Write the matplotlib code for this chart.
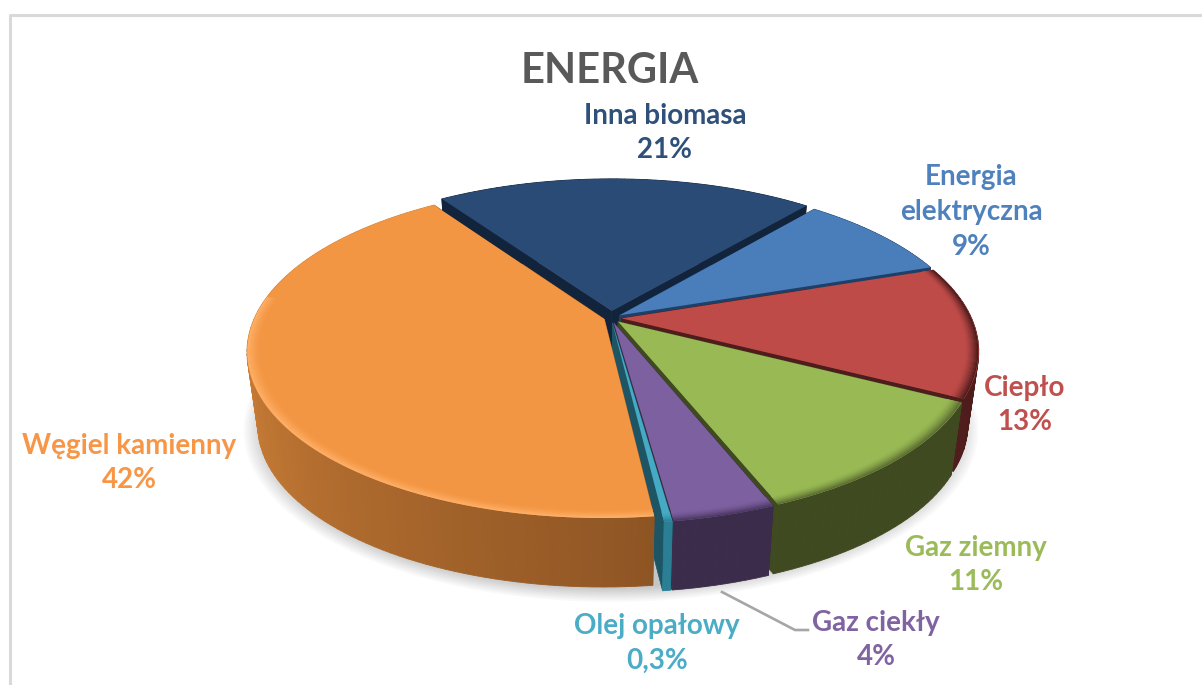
import numpy as np
import matplotlib
matplotlib.use("Agg")
import matplotlib.pyplot as plt
from matplotlib.colors import to_rgb
from matplotlib.patches import Circle
from matplotlib.transforms import Transform

plt.rcParams['font.family'] = ['Lato', 'DejaVu Sans']

# data, clockwise from the top of the pie
# the printed labels are rounded, the slices read a bit finer from the picture
names = ["Inna biomasa", "Energia\nelektryczna", "Ciepło", "Gaz ziemny", "Gaz ciekły", "Olej opałowy", "Węgiel kamienny"]
shares = [20.7, 8.7, 12.75, 11.4, 3.85, 0.3, 42.3]
share_labels = ["21%", "9%", "13%", "11%", "4%", "0,3%", "42%"]

top_colors = ["#2A4B76", "#4A7EBB", "#BE4B48", "#98B954", "#7D60A0", "#46AAC4", "#F39643"]
text_colors = ["#2F5079", "#4F81BD", "#C0504D", "#9BBB59", "#8064A2", "#4BACC6", "#F79646"]
side_colors = ["#11243C", "#1F3F66", "#4F1C1C", "#3F4A20", "#3A2C4A", "#1E5565", "#8E5524"]
wall_start = ["#11243C", "#1F3F66", "#4F1C1C", "#3F4A20", "#3A2C4A", "#2A7F95", "#8E5524"]
wall_end = ["#11243C", "#1F3F66", "#4F1C1C", "#3F4A20", "#3A2C4A", "#2A7F95", "#D48439"]
rim_colors = [None, None, "#4A1A1A", "#5A6B30", "#4A3760", "#2A7F95", "#FFB068"]
offsets = [0.045, 0.03, 0.03, 0.03, 0.03, 0.03, 0.02]

label_x = [665, 971, 1025, 976, 876, 657, 129]
label_y = [133, 212, 405, 565, 640, 643, 463]

# projection of the flat pie onto the picture
CX, CY = 611, 318
A, B, K = 160.0, 350.0, 0.193
DEPTH = 75.0


def project(u, v, z=0.0):
    u = np.asarray(u, dtype=float)
    v = np.asarray(v, dtype=float)
    w = 1 + K * v
    s = 1 - 0.03 * z
    return CX + s * B * u / w, CY - s * A * v / w + DEPTH * z


class Persp(Transform):
    input_dims = 2
    output_dims = 2

    def __init__(self, z=0.0):
        super().__init__()
        self.z = z

    def transform_non_affine(self, values):
        values = np.asarray(values)
        x, y = project(values[:, 0], values[:, 1], self.z)
        return np.column_stack([x, y])


def mix(c1, c2, t):
    return tuple((1 - t) * a + t * b for a, b in zip(to_rgb(c1), to_rgb(c2)))


fig = plt.figure(figsize=(12.02, 6.85), dpi=100)
ax = fig.add_axes([0, 0, 1, 1])

wedges, _ = ax.pie(shares, startangle=124.5, counterclock=False, colors=top_colors,
                   explode=offsets, radius=1.0, wedgeprops={'linewidth': 0})
ax.set_aspect('auto')
ax.set_xlim(0, 1202)
ax.set_ylim(685, 0)
ax.axis('off')

top_tr = Persp(0.0) + ax.transData

# soft shadow under the pie
for r in np.linspace(1.0, 1.06, 10):
    ax.add_patch(Circle((0, 0), r, transform=Persp(1.03) + ax.transData,
                        color='black', alpha=0.024, lw=0, zorder=1))

# radial walls
for i, w in enumerate(wedges):
    cu, cv = w.center
    for th in (w.theta1, w.theta2):
        t = np.radians(th)
        u = np.array([cu, cu + np.cos(t)])
        v = np.array([cv, cv + np.sin(t)])
        x0, y0 = project(u, v, 0)
        x1, y1 = project(u[::-1], v[::-1], 1)
        ax.fill(np.r_[x0, x1], np.r_[y0, y1], color=side_colors[i], lw=0.5, zorder=2)

# outer walls, cut in thin strips for the shading
for i, w in enumerate(wedges):
    cu, cv = w.center
    edges = np.arange(w.theta1, w.theta2 + 1.5, 1.5)
    edges[-1] = w.theta2
    for j in range(len(edges) - 1):
        t = np.radians(edges[j:j + 2])
        u = cu + np.cos(t)
        v = cv + np.sin(t)
        x0, y0 = project(u, v, 0)
        x1, y1 = project(u[::-1], v[::-1], 1)
        # wall_end is at the clockwise end of the slice, only the front part is seen
        f = np.clip((1 - j / max(len(edges) - 2, 1)) / 0.65, 0, 1)
        ax.fill(np.r_[x0, x1], np.r_[y0, y1], color=mix(wall_start[i], wall_end[i], f),
                lw=0.6, zorder=3)

# tops of the slices
for w in wedges:
    w.set_transform(top_tr)
    w.set_zorder(4)

# bevel along the front rim
radii = np.linspace(0.997, 0.962, 14)
for i, w in enumerate(wedges):
    if rim_colors[i] is None:
        continue
    cu, cv = w.center
    lo, hi = w.theta1, w.theta2
    if i == 2:
        hi = min(hi, 25.0)
    if i == 6:
        lo = max(lo, -188.0)
    t = np.radians(np.linspace(lo, hi, 90))
    for r in radii:
        f = (r - radii[-1]) / (radii[0] - radii[-1])
        x, y = project(cu + r * np.cos(t), cv + r * np.sin(t), 0)
        ax.plot(x, y, color=mix(top_colors[i], rim_colors[i], f ** 1.5), lw=1.0,
                solid_capstyle='butt', zorder=5)

# chart frame
ax.plot([9.5, 9.5, 1202], [685, 15, 15], color='#D9D9D9', lw=2.2, zorder=0)

# leader line of Gaz ciekły
ax.plot([722, 795, 808], [592, 630, 630], color='#A6A6A6', lw=1.9, zorder=6)

ax.text(610, 71, "ENERGIA", ha='center', va='center', fontsize=30, fontweight='bold',
        color='#595959')

for i in range(len(names)):
    ax.text(label_x[i], label_y[i], names[i] + "\n" + share_labels[i], ha='center', va='center',
            fontsize=20, fontweight='bold', color=text_colors[i], linespacing=1.42, zorder=7)

fig.savefig("out.png", dpi=100, facecolor='white')
